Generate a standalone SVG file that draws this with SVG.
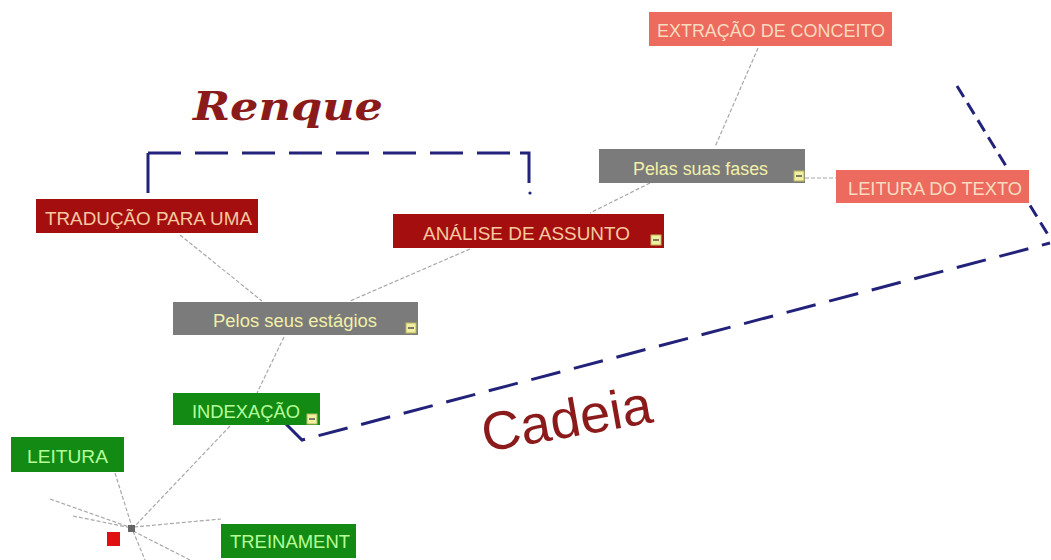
<svg xmlns="http://www.w3.org/2000/svg" width="1051" height="560" viewBox="0 0 1051 560">
<style>
.nt{font-family:"Liberation Sans",Arial,sans-serif;font-size:18px}
.dr{fill:#a50e0e}
.sa{fill:#ec6a5e}
.gr{fill:#7b7b7b}
.gn{fill:#138a13}
.tdr{fill:#f6c9a0}
.tsa{fill:#f9dcc0}
.tgr{fill:#f2f0a8}
.tgn{fill:#b5ff9a}
.tog{fill:#f0f0a0;stroke:#b8b860;stroke-width:1}
.togm{stroke:#555;stroke-width:1.5}
.con{stroke:#a8a8a8;stroke-width:1.2;fill:none;stroke-dasharray:4 2}
.blu{stroke:#22227a;stroke-width:3;fill:none}
</style>
<rect width="1051" height="560" fill="#ffffff"/>
<g id="connectors">
<line class="con" x1="758" y1="48" x2="715" y2="147"/>
<line class="con" x1="805" y1="178" x2="836" y2="178"/>
<line class="con" x1="650" y1="183" x2="590" y2="213"/>
<line class="con" x1="470" y1="249" x2="350" y2="301"/>
<line class="con" x1="180" y1="235" x2="262" y2="301"/>
<line class="con" x1="284" y1="337" x2="257" y2="393"/>
<line class="con" x1="230" y1="426" x2="134" y2="527"/>
<line class="con" x1="115" y1="473" x2="132" y2="527"/>
<line class="con" x1="134" y1="527" x2="221" y2="519"/>
<line class="con" x1="50" y1="499" x2="132" y2="528"/>
<line class="con" x1="73" y1="516" x2="132" y2="528"/>
<line class="con" x1="133" y1="531" x2="190" y2="560"/>
<line class="con" x1="133" y1="531" x2="145" y2="560"/>
<rect x="128" y="525" width="7" height="7" fill="#666"/>
</g>
<g id="renque-bracket">
<line class="blu" x1="148" y1="193" x2="148" y2="153"/>
<path class="blu" d="M148 153 H510" stroke-dasharray="33 14"/>
<path class="blu" d="M520 153 H529 V183"/>
<circle cx="530" cy="193" r="1.6" fill="#22227a"/>
</g>
<g id="cadeia-line">
<path class="blu" d="M283 421 L302 440 L1050 243" stroke-dasharray="30 14"/>
<path class="blu" d="M957 86 L1050 238" stroke-dasharray="13 7"/>
</g>
<g id="node-extracao">
<rect class="sa" x="649" y="12" width="243" height="34"/>
<text class="nt tsa" x="657" y="37" textLength="228" lengthAdjust="spacingAndGlyphs">EXTRAÇÃO DE CONCEITO</text>
</g>
<g id="node-pelas-fases">
<rect class="gr" x="599" y="149" width="206" height="34"/>
<text class="nt tgr" x="633" y="175" textLength="135" lengthAdjust="spacingAndGlyphs">Pelas suas fases</text>
<rect class="tog" x="794" y="171" width="10" height="10"/>
<line class="togm" x1="796" y1="176" x2="802" y2="176"/>
</g>
<g id="node-leitura-texto">
<rect class="sa" x="836" y="170" width="193" height="33"/>
<text class="nt tsa" x="848" y="195" textLength="174" lengthAdjust="spacingAndGlyphs">LEITURA DO TEXTO</text>
</g>
<g id="node-traducao">
<rect class="dr" x="36" y="199" width="222" height="34"/>
<text class="nt tdr" x="45" y="225" textLength="207" lengthAdjust="spacingAndGlyphs">TRADUÇÃO PARA UMA</text>
</g>
<g id="node-analise">
<rect class="dr" x="393" y="214" width="271" height="34"/>
<text class="nt tdr" x="423" y="240" textLength="207" lengthAdjust="spacingAndGlyphs">ANÁLISE DE ASSUNTO</text>
<rect class="tog" x="651" y="235" width="10" height="10"/>
<line class="togm" x1="653" y1="240" x2="659" y2="240"/>
</g>
<g id="node-pelos-estagios">
<rect class="gr" x="173" y="302" width="245" height="33"/>
<text class="nt tgr" x="213" y="327" textLength="164" lengthAdjust="spacingAndGlyphs">Pelos seus estágios</text>
<rect class="tog" x="406" y="323" width="10" height="10"/>
<line class="togm" x1="408" y1="328" x2="414" y2="328"/>
</g>
<g id="node-indexacao">
<rect class="gn" x="173" y="393" width="147" height="32"/>
<text class="nt tgn" x="192" y="418" textLength="108" lengthAdjust="spacingAndGlyphs">INDEXAÇÃO</text>
<rect class="tog" x="307" y="414" width="10" height="10"/>
<line class="togm" x1="309" y1="419" x2="315" y2="419"/>
</g>
<g id="node-leitura">
<rect class="gn" x="11" y="437" width="113" height="35"/>
<text class="nt tgn" x="27" y="463" textLength="81" lengthAdjust="spacingAndGlyphs">LEITURA</text>
</g>
<g id="node-treinament">
<rect class="gn" x="221" y="524" width="135" height="34"/>
<text class="nt tgn" x="230" y="548" textLength="120" lengthAdjust="spacingAndGlyphs">TREINAMENT</text>
</g>
<g id="root-marker">
<rect x="107" y="532" width="13" height="14" fill="#e01010"/>
</g>
<g id="labels">
<text x="193" y="120" font-family="'DejaVu Serif',serif" font-style="italic" font-weight="bold" font-size="40" fill="#8b1a1a" textLength="190" lengthAdjust="spacingAndGlyphs">Renque</text>
<text x="485" y="452" transform="rotate(-10 485 452)" font-family="'Liberation Sans',Arial,sans-serif" font-size="54" fill="#8b1a1a" textLength="172" lengthAdjust="spacingAndGlyphs">Cadeia</text>
</g>
</svg>
